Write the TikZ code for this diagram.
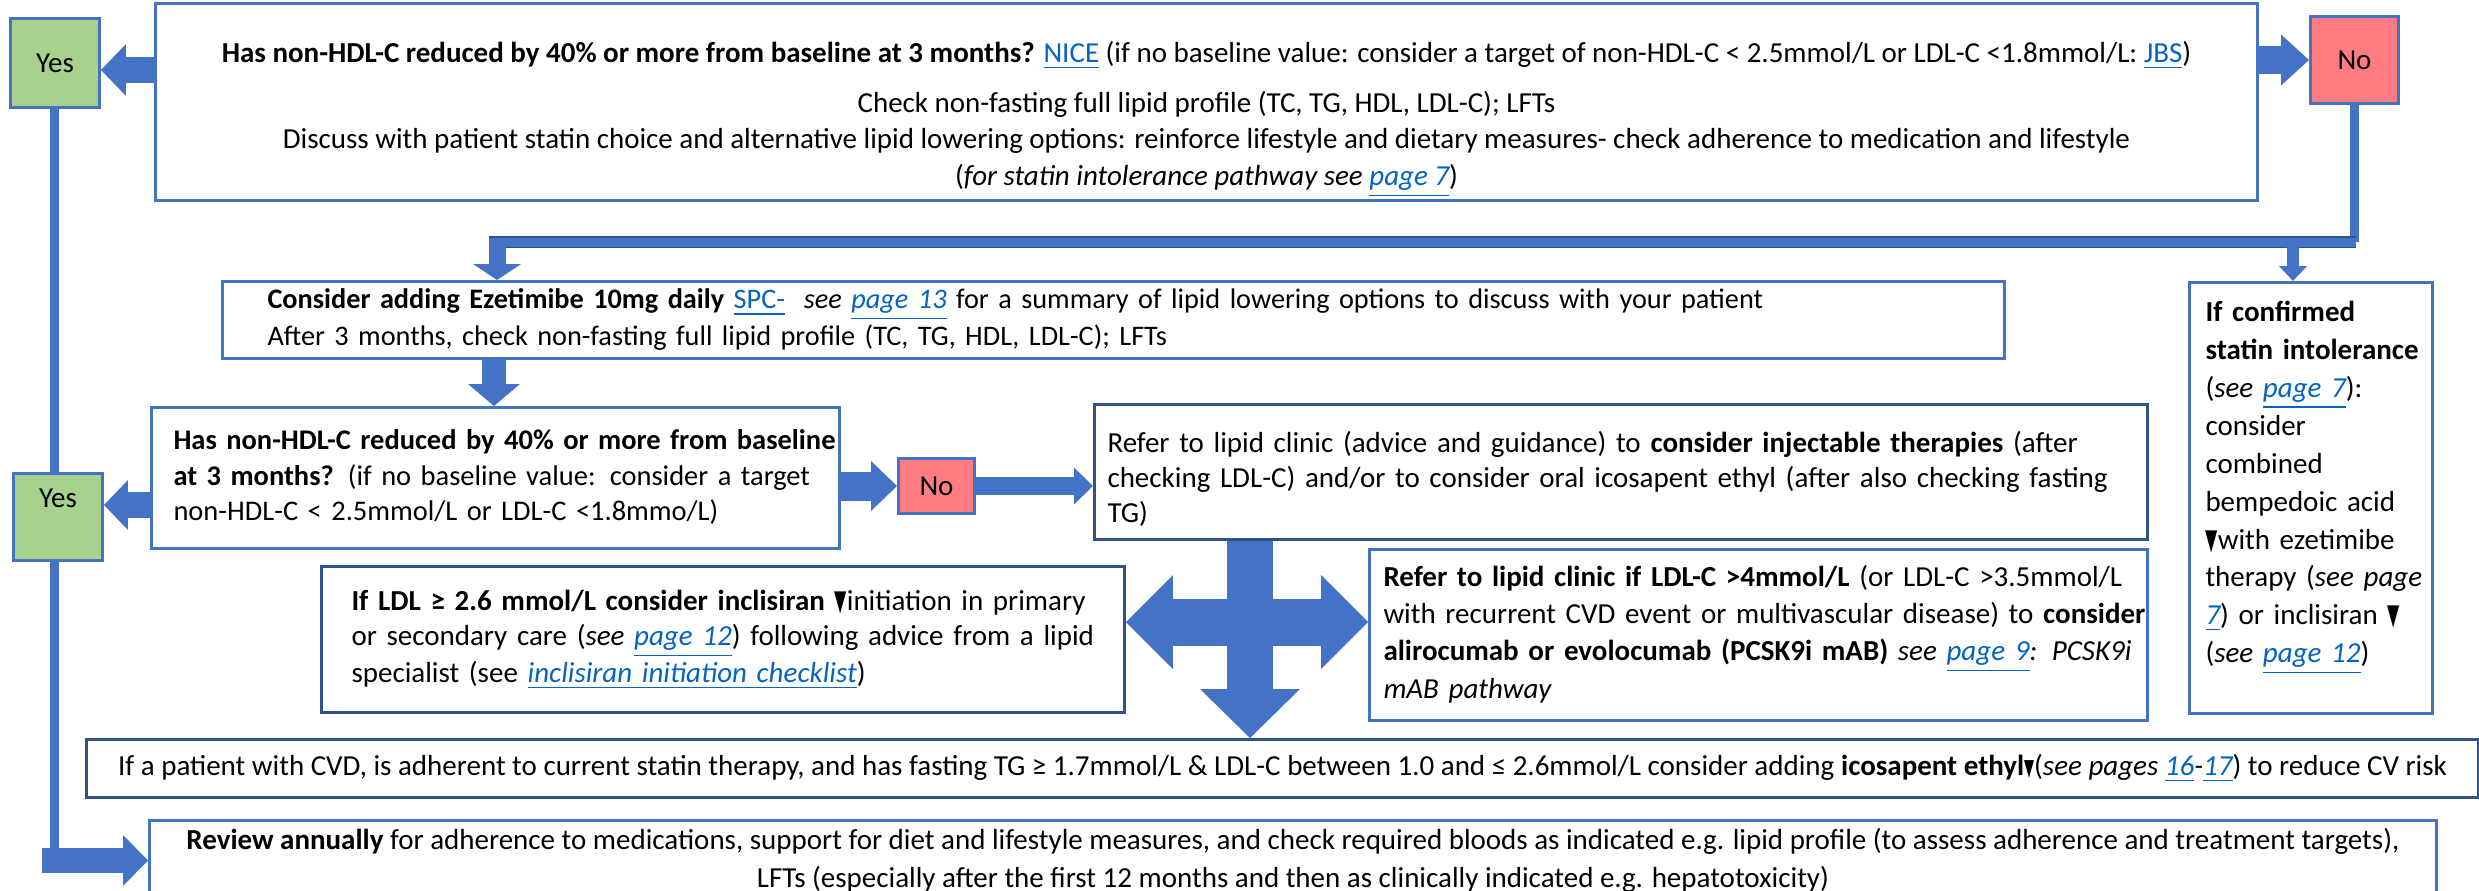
\documentclass[tikz,border=0pt]{standalone}
\usepackage{fontspec}
\setmainfont{Carlito}
\newfontfamily\symfont{DejaVu Sans}
\usepackage{xcolor}
\usetikzlibrary{arrows.meta}
\definecolor{boxblue}{HTML}{4472C4}
\definecolor{boxdark}{HTML}{2F528F}
\definecolor{yesgreen}{HTML}{A9D18E}
\definecolor{nored}{HTML}{FF7C80}
\definecolor{linkblue}{HTML}{0563C1}
\newcommand{\lnk}[1]{\textcolor{linkblue}{\underline{#1}}}
\newcommand{\blacktri}{{\symfont\scalebox{0.55}[1]{▼}}}
\newcommand{\smalltri}{{\symfont\scalebox{0.45}[0.8]{▼}}}

\begin{document}
\begin{tikzpicture}[x=0.1mm, y=-0.1mm,
  box/.style={draw=boxblue, line width=0.3mm, fill=white, anchor=north west, inner ysep=0pt,
    font=\fontsize{8.25}{10}\selectfont},
  darkbox/.style={box, draw=boxdark},
  yesbox/.style={box, fill=yesgreen, inner xsep=0pt},
  nobox/.style={box, fill=nored, inner xsep=0pt},
  blk/.style args={#1/#2/#3}{draw=boxblue, line width=#1,
    -{Triangle[width=#2, length=#3, line width=0pt]}},
  blkboth/.style args={#1/#2/#3}{draw=boxblue, line width=#1,
    {Triangle[width=#2, length=#3, line width=0pt]}-{Triangle[width=#2, length=#3, line width=0pt]}},
  vline/.style={draw=boxblue, line width=0.9mm},
  bar/.style={draw=boxdark, double=boxblue, line width=0.15mm, double distance=0.9mm}]

  \useasboundingbox (0,0) rectangle (2479,891);
  \fill[white] (0,0) rectangle (2479,891);

  \node[box, minimum width=210.2mm, minimum height=19.7mm, font=\fontsize{8.25}{10.5}\selectfont] (top) at (154,2)
    {\begin{tabular}{@{}c@{}}\rule{0pt}{5.6mm}\textbf{Has non-HDL-C reduced by 40\% or more from baseline at 3 months?} \lnk{NICE} (if no baseline value: consider a target of non-HDL-C < 2.5mmol/L or LDL-C <1.8mmol/L: \lnk{JBS})\\[1.3mm]
    Check non-fasting full lipid profile (TC, TG, HDL, LDL-C); LFTs\\
    Discuss with patient statin choice and alternative lipid lowering options: reinforce lifestyle and dietary measures- check adherence to medication and lifestyle\\
    (\textit{for statin intolerance pathway see \lnk{page 7}})\end{tabular}};
  \node[yesbox, minimum width=8.9mm, minimum height=8.9mm] (yes1) at (9,17) {Yes};
  \node[nobox, minimum width=8.8mm, minimum height=8.7mm] (no1) at (2309,15) {No};
  \node[box, inner xsep=4.5mm, text width=169.2mm, minimum height=7.7mm, font=\fontsize{8.05}{10}\selectfont] (ezet) at (221,280)
    {\begin{tabular}{@{}l@{}}\textbf{Consider adding Ezetimibe 10mg daily} \lnk{SPC-}\ \ \textit{see \lnk{page 13}} for a summary of lipid lowering options to discuss with your patient\\
    After 3 months, check non-fasting full lipid profile (TC, TG, HDL, LDL-C); LFTs\end{tabular}};
  \node[box, inner xsep=1.6mm, text width=21.1mm, minimum height=43.1mm, font=\fontsize{8.25}{10.75}\selectfont] (statin) at (2188,281)
    {\begin{tabular}{@{}l@{}}\textbf{If confirmed}\\ \textbf{statin intolerance}\\ (\textit{see \lnk{page 7}}):\\ consider\\ combined\\ bempedoic acid\\
    \blacktri with ezetimibe\\ therapy (\textit{see page}\\ \textit{\lnk{7}}) or inclisiran \blacktri\\ (\textit{see \lnk{page 12}})\\[2.7mm]\end{tabular}};
  \node[box, inner xsep=2.2mm, text width=64.4mm, minimum height=14.1mm, font=\fontsize{8.1}{10}\selectfont] (q2) at (150,406)
    {\begin{tabular}{@{}l@{}}\textbf{Has non-HDL-C reduced by 40\% or more from baseline}\\
    \textbf{at 3 months?} (if no baseline value: consider a target\\
    non-HDL-C < 2.5mmol/L or LDL-C <1.8mmo/L)\end{tabular}};
  \node[yesbox, minimum width=8.9mm, minimum height=8.7mm, text height=3.4mm, text depth=5.3mm] (yes2) at (12,472) {Yes};
  \node[nobox, minimum width=7.6mm, minimum height=5.5mm] (no2) at (897,457) {No};
  \node[darkbox, inner xsep=1.3mm, text width=102.7mm, minimum height=13.5mm] (refer) at (1093,403)
    {\begin{tabular}{@{}l@{}}\rule{0pt}{4.1mm}Refer to lipid clinic (advice and guidance) to \textbf{consider injectable therapies} (after\\
    checking LDL-C) and/or to consider oral icosapent ethyl (after also checking fasting\\ TG)\end{tabular}};
  \node[darkbox, inner xsep=3mm, text width=74.3mm, minimum height=14.6mm] (inclis) at (320,565)
    {\begin{tabular}{@{}l@{}}\textbf{If LDL ≥ 2.6 mmol/L consider inclisiran} \blacktri initiation in primary\\
    or secondary care (\textit{see \lnk{page 12}}) following advice from a lipid\\
    specialist (see \textit{\lnk{inclisiran initiation checklist}})\end{tabular}};
  \node[box, inner xsep=1.4mm, text width=75mm, minimum height=17.1mm, font=\fontsize{8.25}{10.5}\selectfont] (pcsk) at (1368,548)
    {\begin{tabular}{@{}l@{}}\textbf{Refer to lipid clinic if LDL-C >4mmol/L} (or LDL-C >3.5mmol/L\\
    with recurrent CVD event or multivascular disease) to \textbf{consider}\\
    \textbf{alirocumab or evolocumab (PCSK9i mAB)} \textit{see \lnk{page 9}: PCSK9i}\\
    \textit{mAB pathway}\end{tabular}};
  \node[darkbox, minimum width=239.2mm, minimum height=5.8mm] (icosa) at (85,738)
    {If a patient with CVD, is adherent to current statin therapy, and has fasting TG ≥ 1.7mmol/L \& LDL-C between 1.0 and ≤ 2.6mmol/L consider adding \textbf{icosapent ethyl}\smalltri(\textit{see pages \lnk{16}-\lnk{17}}) to reduce CV risk};
  \node[box, minimum width=228.7mm, minimum height=8mm, font=\fontsize{8.25}{10.8}\selectfont] (review) at (148,819)
    {\begin{tabular}{@{}c@{}}\textbf{Review annually} for adherence to medications, support for diet and lifestyle measures, and check required bloods as indicated e.g. lipid profile (to assess adherence and treatment targets),\\
    LFTs (especially after the first 12 months and then as clinically indicated e.g. hepatotoxicity)\end{tabular}};

  \coordinate (barL) at (489,242);
  \coordinate (barR) at (2356,242);
  \coordinate (ezdrop) at (497,242);
  \coordinate (stdrop) at (2293,242);

  \draw[blk=2.6mm/5.2mm/2.5mm] (top.west |- 0,70) -- (yes1.east |- 0,70);
  \draw[blk=2.8mm/5.1mm/2.8mm] (top.east |- no1.west) -- (no1.west);
  \draw[vline] (no1.south) -- (no1.south |- barR);
  \draw[bar] (barL) -- (barR);
  \draw[blk=1.7mm/4.8mm/1.6mm] (ezdrop) -- (ezdrop |- ezet.north);
  \draw[blk=1.2mm/2.8mm/1.5mm] (stdrop) -- (stdrop |- statin.north);
  \draw[blk=2.4mm/5.2mm/2.2mm] (494,0 |- ezet.south) -- (494,0 |- q2.north);
  \draw[blk=2.6mm/5mm/2.4mm] (q2.west |- 0,505) -- (yes2.east |- 0,505);
  \draw[vline] (yes1.south) -- (yes1.south |- yes2.north);
  \draw[vline] (yes1.south |- yes2.south) -- (yes1.south |- review.west);
  \draw[blk=2.5mm/5.1mm/2.5mm] (review.west -| 42,0) -- (review.west);
  \draw[blk=2.9mm/5mm/2.6mm] (q2.east |- no2.west) -- (no2.west);
  \draw[blk=1.8mm/3.7mm/1.9mm] (no2.east) -- (refer.west |- no2.east);
  \draw[blk=4.6mm/10mm/4.9mm] (1250,0 |- refer.south) -- (1250,0 |- icosa.north);
  \draw[blkboth=4.7mm/9.4mm/4.7mm] (inclis.east |- 0,622) -- (pcsk.west |- 0,622);
\end{tikzpicture}
\end{document}
